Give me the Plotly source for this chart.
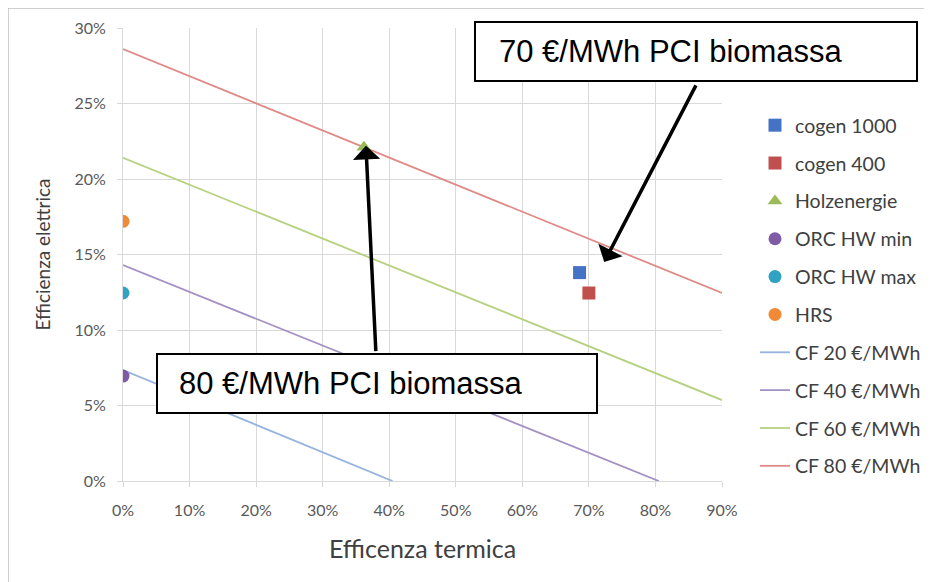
import plotly.graph_objects as go

# Data (fractions)
points = {
    "cogen 1000": ([0.686], [0.138], "#4472C4", "square"),
    "cogen 400": ([0.700], [0.1245], "#C0504D", "square"),
    "Holzenergie": ([0.362], [0.221], "#9BBB59", "triangle-up"),
    "ORC HW min": ([0.0], [0.0695], "#7F5BA6", "circle"),
    "ORC HW max": ([0.0], [0.1245], "#31A3C2", "circle"),
    "HRS": ([0.0], [0.172], "#F08A36", "circle"),
}
cf20_x = [0.0, 0.405]
cf20_y = [0.0735, 0.0]
cf40_x = [0.0, 0.805]
cf40_y = [0.143, 0.0]
cf60_x = [0.0, 0.90]
cf60_y = [0.214, 0.0536]
cf80_x = [0.0, 0.90]
cf80_y = [0.286, 0.1245]
lines = [
    ("CF 20 €/MWh", cf20_x, cf20_y, "#95B3DE"),
    ("CF 40 €/MWh", cf40_x, cf40_y, "#A390C4"),
    ("CF 60 €/MWh", cf60_x, cf60_y, "#B5D17F"),
    ("CF 80 €/MWh", cf80_x, cf80_y, "#E08A88"),
]
x_ticks = [0, 0.1, 0.2, 0.3, 0.4, 0.5, 0.6, 0.7, 0.8, 0.9]
x_labels = ["0%", "10%", "20%", "30%", "40%", "50%", "60%", "70%", "80%", "90%"]
y_ticks = [0, 0.05, 0.10, 0.15, 0.20, 0.25, 0.30]
y_labels = ["0%", "5%", "10%", "15%", "20%", "25%", "30%"]

FONT = "Lato"
L, W, T, H = 115, 599, 20, 453


def px(s):
    return (s - 123) / W


def py(s):
    return (481 - s) / H


fig = go.Figure()

for name, x, y, col in lines:
    fig.add_trace(go.Scatter(x=x, y=y, mode="lines", name=name,
                             line=dict(color=col, width=1.8),
                             legendgroup=name))

for name, (x, y, col, sym) in points.items():
    fig.add_trace(go.Scatter(x=x, y=y, mode="markers", name=name,
                             marker=dict(color=col, symbol=sym, size=13),
                             legendgroup=name, legendrank=1))

grid = "#D9D9D9"
fig.update_xaxes(range=[0, 0.9], tickvals=x_ticks, ticktext=x_labels,
                 showgrid=True, gridcolor=grid, gridwidth=1,
                 showline=True, linecolor=grid, zeroline=False,
                 ticks="outside", ticklen=5, tickcolor=grid,
                 ticklabelstandoff=10,
                 tickfont=dict(family=FONT, size=16, color="#595959"),
                 title=dict(text="Efficenza termica", standoff=22,
                            font=dict(family=FONT, size=25, color="#404040")))
fig.update_yaxes(range=[0, 0.30], tickvals=y_ticks, ticktext=y_labels,
                 showgrid=True, gridcolor=grid, gridwidth=1,
                 showline=True, linecolor=grid, zeroline=False,
                 ticks="outside", ticklen=5, tickcolor=grid,
                 ticklabelstandoff=8,
                 tickfont=dict(family=FONT, size=16, color="#595959"),
                 title=dict(text="Efficienza elettrica", standoff=18,
                            font=dict(family=FONT, size=19, color="#404040")))

# Text boxes (rectangles + text)
for (x0, y0, x1, y1, tx, label) in [
    (475, 22, 917, 81, 497, "70 €/MWh PCI biomassa"),
    (157, 354, 597, 413, 177, "80 €/MWh PCI biomassa"),
]:
    fig.add_shape(type="rect", xref="paper", yref="paper",
                  x0=px(x0), x1=px(x1), y0=py(y1), y1=py(y0),
                  line=dict(color="black", width=2), fillcolor="white", layer="above")
    fig.add_annotation(xref="paper", yref="paper", x=px(tx), y=py((y0 + y1) / 2),
                       xanchor="left", yanchor="middle", showarrow=False,
                       text=label,
                       font=dict(family="Liberation Sans", size=31, color="black"))

# Arrows (head at x,y; tail at ax,ay)
fig.add_annotation(x=0.723, y=0.145, ax=0.862, ay=0.263, xref="x", yref="y",
                   axref="x", ayref="y", text="", showarrow=True,
                   arrowhead=1, arrowsize=1.3, arrowwidth=3.5, arrowcolor="black")
fig.add_annotation(x=0.365, y=0.222, ax=0.380, ay=0.085, xref="x", yref="y",
                   axref="x", ayref="y", text="", showarrow=True,
                   arrowhead=1, arrowsize=1.3, arrowwidth=3.5, arrowcolor="black")

# Outer chart border (left and top)
fig.add_shape(type="line", xref="paper", yref="paper",
              x0=px(8), x1=px(8), y0=py(590), y1=py(8),
              line=dict(color="#BFBFBF", width=1.5))
fig.add_shape(type="line", xref="paper", yref="paper",
              x0=px(8), x1=px(940), y0=py(8), y1=py(8),
              line=dict(color="#BFBFBF", width=1.5))

fig.update_layout(
    width=932, height=582,
    margin=dict(l=L, r=932 - L - W, t=T, b=582 - T - H, autoexpand=False),
    paper_bgcolor="white", plot_bgcolor="white",
    showlegend=True,
    legend=dict(x=px(755), y=py(106), xanchor="left", yanchor="top",
                font=dict(family=FONT, size=19.5, color="#404040"),
                tracegroupgap=9.5, itemwidth=30, traceorder="grouped",
                borderwidth=0, bgcolor="rgba(0,0,0,0)"),
)

fig.write_html("out.html")
